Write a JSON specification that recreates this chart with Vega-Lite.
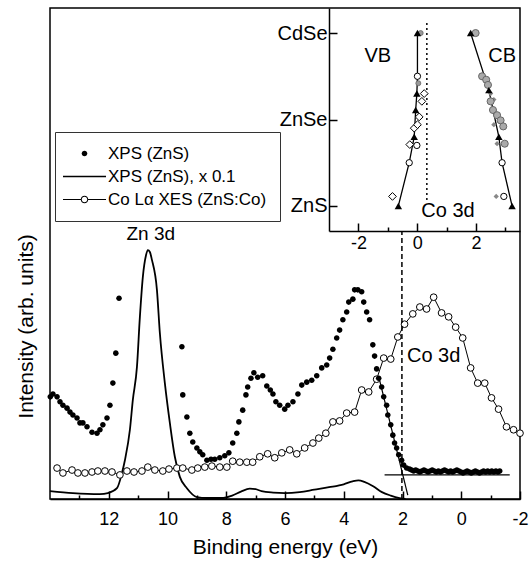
{
  "$schema": "https://vega.github.io/schema/vega-lite/v6.json",
  "width": 470,
  "height": 491,
  "autosize": {"type": "none"},
  "padding": {"left": 50, "top": 8, "right": 12, "bottom": 66},
  "background": "white",
  "config": {
    "font": "Liberation Sans",
    "view": {"stroke": "black", "strokeWidth": 1.5},
    "axis": {"domainColor": "black", "tickColor": "black", "labelColor": "black", "titleColor": "black", "grid": false, "titleFontWeight": "normal", "labelFont": "Liberation Sans", "titleFont": "Liberation Sans"}
  },
  "datasets": {
    "spectra": [
      {"s": "XPS (ZnS)", "e": 13.99, "i": 20.8}, {"s": "XPS (ZnS)", "e": 13.9, "i": 21.4}, {"s": "XPS (ZnS)", "e": 13.76, "i": 20.8}, {"s": "XPS (ZnS)", "e": 13.66, "i": 19.8}, {"s": "XPS (ZnS)", "e": 13.56, "i": 19.1}, {"s": "XPS (ZnS)", "e": 13.42, "i": 18.5}, {"s": "XPS (ZnS)", "e": 13.32, "i": 17.7}, {"s": "XPS (ZnS)", "e": 13.22, "i": 17.1}, {"s": "XPS (ZnS)", "e": 13.08, "i": 16.5}, {"s": "XPS (ZnS)", "e": 12.98, "i": 15.5}, {"s": "XPS (ZnS)", "e": 12.88, "i": 15.5}, {"s": "XPS (ZnS)", "e": 12.74, "i": 14.7}, {"s": "XPS (ZnS)", "e": 12.57, "i": 13.6}, {"s": "XPS (ZnS)", "e": 12.4, "i": 13.4}, {"s": "XPS (ZnS)", "e": 12.3, "i": 14.1}, {"s": "XPS (ZnS)", "e": 12.2, "i": 15.1}, {"s": "XPS (ZnS)", "e": 12.06, "i": 16.5}, {"s": "XPS (ZnS)", "e": 11.96, "i": 19.1}, {"s": "XPS (ZnS)", "e": 11.86, "i": 23.6}, {"s": "XPS (ZnS)", "e": 11.76, "i": 29.7}, {"s": "XPS (ZnS)", "e": 11.65, "i": 40.9},
      {"s": "XPS (ZnS)", "e": 9.51, "i": 31.0}, {"s": "XPS (ZnS)", "e": 9.48, "i": 21.2}, {"s": "XPS (ZnS)", "e": 9.34, "i": 16.7}, {"s": "XPS (ZnS)", "e": 9.24, "i": 13.4}, {"s": "XPS (ZnS)", "e": 9.14, "i": 11.6}, {"s": "XPS (ZnS)", "e": 9.0, "i": 10.4}, {"s": "XPS (ZnS)", "e": 8.9, "i": 9.6}, {"s": "XPS (ZnS)", "e": 8.8, "i": 9.0}, {"s": "XPS (ZnS)", "e": 8.66, "i": 7.9}, {"s": "XPS (ZnS)", "e": 8.52, "i": 8.1}, {"s": "XPS (ZnS)", "e": 8.39, "i": 8.1}, {"s": "XPS (ZnS)", "e": 8.22, "i": 8.4}, {"s": "XPS (ZnS)", "e": 8.05, "i": 8.8}, {"s": "XPS (ZnS)", "e": 7.91, "i": 9.4}, {"s": "XPS (ZnS)", "e": 7.78, "i": 11.4}, {"s": "XPS (ZnS)", "e": 7.64, "i": 13.4}, {"s": "XPS (ZnS)", "e": 7.57, "i": 15.7}, {"s": "XPS (ZnS)", "e": 7.44, "i": 18.1}, {"s": "XPS (ZnS)", "e": 7.33, "i": 21.2}, {"s": "XPS (ZnS)", "e": 7.27, "i": 22.8}, {"s": "XPS (ZnS)", "e": 7.16, "i": 24.6}, {"s": "XPS (ZnS)", "e": 7.06, "i": 25.7}, {"s": "XPS (ZnS)", "e": 6.93, "i": 24.8}, {"s": "XPS (ZnS)", "e": 6.76, "i": 25.1}, {"s": "XPS (ZnS)", "e": 6.62, "i": 23.0}, {"s": "XPS (ZnS)", "e": 6.5, "i": 22.2}, {"s": "XPS (ZnS)", "e": 6.41, "i": 21.4}, {"s": "XPS (ZnS)", "e": 6.31, "i": 19.8}, {"s": "XPS (ZnS)", "e": 6.18, "i": 19.1}, {"s": "XPS (ZnS)", "e": 6.01, "i": 18.3}, {"s": "XPS (ZnS)", "e": 5.9, "i": 19.1}, {"s": "XPS (ZnS)", "e": 5.73, "i": 19.8}, {"s": "XPS (ZnS)", "e": 5.56, "i": 21.4}, {"s": "XPS (ZnS)", "e": 5.43, "i": 23.2}, {"s": "XPS (ZnS)", "e": 5.26, "i": 23.8}, {"s": "XPS (ZnS)", "e": 5.09, "i": 24.2}, {"s": "XPS (ZnS)", "e": 4.92, "i": 25.1}, {"s": "XPS (ZnS)", "e": 4.75, "i": 26.7}, {"s": "XPS (ZnS)", "e": 4.58, "i": 27.3}, {"s": "XPS (ZnS)", "e": 4.48, "i": 28.7}, {"s": "XPS (ZnS)", "e": 4.37, "i": 30.5}, {"s": "XPS (ZnS)", "e": 4.24, "i": 32.8}, {"s": "XPS (ZnS)", "e": 4.14, "i": 34.4}, {"s": "XPS (ZnS)", "e": 4.03, "i": 36.5}, {"s": "XPS (ZnS)", "e": 3.9, "i": 38.1}, {"s": "XPS (ZnS)", "e": 3.83, "i": 40.1}, {"s": "XPS (ZnS)", "e": 3.69, "i": 40.7}, {"s": "XPS (ZnS)", "e": 3.63, "i": 42.6}, {"s": "XPS (ZnS)", "e": 3.52, "i": 42.6}, {"s": "XPS (ZnS)", "e": 3.39, "i": 42.2}, {"s": "XPS (ZnS)", "e": 3.32, "i": 40.1}, {"s": "XPS (ZnS)", "e": 3.22, "i": 38.1}, {"s": "XPS (ZnS)", "e": 3.12, "i": 36.5}, {"s": "XPS (ZnS)", "e": 3.01, "i": 31.4}, {"s": "XPS (ZnS)", "e": 2.95, "i": 29.1}, {"s": "XPS (ZnS)", "e": 2.88, "i": 26.5}, {"s": "XPS (ZnS)", "e": 2.81, "i": 24.6}, {"s": "XPS (ZnS)", "e": 2.71, "i": 22.8}, {"s": "XPS (ZnS)", "e": 2.64, "i": 20.8}, {"s": "XPS (ZnS)", "e": 2.54, "i": 19.1}, {"s": "XPS (ZnS)", "e": 2.5, "i": 17.1}, {"s": "XPS (ZnS)", "e": 2.4, "i": 15.1}, {"s": "XPS (ZnS)", "e": 2.33, "i": 13.0}, {"s": "XPS (ZnS)", "e": 2.27, "i": 11.4}, {"s": "XPS (ZnS)", "e": 2.2, "i": 10.4}, {"s": "XPS (ZnS)", "e": 2.13, "i": 9.0}, {"s": "XPS (ZnS)", "e": 2.03, "i": 7.9}, {"s": "XPS (ZnS)", "e": 1.96, "i": 6.9}, {"s": "XPS (ZnS)", "e": 1.86, "i": 6.3},
      {"s": "XPS (ZnS)", "e": 1.76, "i": 6.1}, {"s": "XPS (ZnS)", "e": 1.69, "i": 5.9}, {"s": "XPS (ZnS)", "e": 1.62, "i": 5.7}, {"s": "XPS (ZnS)", "e": 1.55, "i": 5.9}, {"s": "XPS (ZnS)", "e": 1.48, "i": 5.7}, {"s": "XPS (ZnS)", "e": 1.41, "i": 5.5}, {"s": "XPS (ZnS)", "e": 1.34, "i": 5.7}, {"s": "XPS (ZnS)", "e": 1.27, "i": 5.9}, {"s": "XPS (ZnS)", "e": 1.2, "i": 5.7}, {"s": "XPS (ZnS)", "e": 1.13, "i": 5.5}, {"s": "XPS (ZnS)", "e": 1.06, "i": 5.7}, {"s": "XPS (ZnS)", "e": 0.99, "i": 5.9}, {"s": "XPS (ZnS)", "e": 0.92, "i": 5.7}, {"s": "XPS (ZnS)", "e": 0.85, "i": 5.5}, {"s": "XPS (ZnS)", "e": 0.78, "i": 5.7}, {"s": "XPS (ZnS)", "e": 0.71, "i": 5.5}, {"s": "XPS (ZnS)", "e": 0.64, "i": 5.7}, {"s": "XPS (ZnS)", "e": 0.57, "i": 5.9}, {"s": "XPS (ZnS)", "e": 0.5, "i": 5.7}, {"s": "XPS (ZnS)", "e": 0.43, "i": 5.5}, {"s": "XPS (ZnS)", "e": 0.36, "i": 5.7}, {"s": "XPS (ZnS)", "e": 0.29, "i": 5.5}, {"s": "XPS (ZnS)", "e": 0.22, "i": 5.7}, {"s": "XPS (ZnS)", "e": 0.15, "i": 5.9}, {"s": "XPS (ZnS)", "e": 0.08, "i": 5.7}, {"s": "XPS (ZnS)", "e": 0.01, "i": 5.5}, {"s": "XPS (ZnS)", "e": -0.06, "i": 5.3}, {"s": "XPS (ZnS)", "e": -0.13, "i": 5.5}, {"s": "XPS (ZnS)", "e": -0.2, "i": 5.7}, {"s": "XPS (ZnS)", "e": -0.27, "i": 5.5}, {"s": "XPS (ZnS)", "e": -0.34, "i": 5.3}, {"s": "XPS (ZnS)", "e": -0.41, "i": 5.5}, {"s": "XPS (ZnS)", "e": -0.48, "i": 5.7}, {"s": "XPS (ZnS)", "e": -0.55, "i": 5.5}, {"s": "XPS (ZnS)", "e": -0.62, "i": 5.3}, {"s": "XPS (ZnS)", "e": -0.69, "i": 5.5}, {"s": "XPS (ZnS)", "e": -0.76, "i": 5.7}, {"s": "XPS (ZnS)", "e": -0.83, "i": 5.5}, {"s": "XPS (ZnS)", "e": -0.9, "i": 5.7}, {"s": "XPS (ZnS)", "e": -0.97, "i": 5.5}, {"s": "XPS (ZnS)", "e": -1.04, "i": 5.7}, {"s": "XPS (ZnS)", "e": -1.11, "i": 5.5}, {"s": "XPS (ZnS)", "e": -1.18, "i": 5.7}, {"s": "XPS (ZnS)", "e": -1.25, "i": 5.5}, {"s": "XPS (ZnS)", "e": -1.31, "i": 5.7},
      {"s": "XPS (ZnS), x 0.1", "e": 14.0, "i": 1.6}, {"s": "XPS (ZnS), x 0.1", "e": 13.22, "i": 1.2}, {"s": "XPS (ZnS), x 0.1", "e": 12.3, "i": 1.0}, {"s": "XPS (ZnS), x 0.1", "e": 12.03, "i": 1.2}, {"s": "XPS (ZnS), x 0.1", "e": 11.72, "i": 2.2}, {"s": "XPS (ZnS), x 0.1", "e": 11.55, "i": 5.3}, {"s": "XPS (ZnS), x 0.1", "e": 11.45, "i": 7.9}, {"s": "XPS (ZnS), x 0.1", "e": 11.28, "i": 14.1}, {"s": "XPS (ZnS), x 0.1", "e": 11.18, "i": 20.2}, {"s": "XPS (ZnS), x 0.1", "e": 11.04, "i": 26.9}, {"s": "XPS (ZnS), x 0.1", "e": 10.94, "i": 37.1}, {"s": "XPS (ZnS), x 0.1", "e": 10.84, "i": 45.2}, {"s": "XPS (ZnS), x 0.1", "e": 10.73, "i": 49.7}, {"s": "XPS (ZnS), x 0.1", "e": 10.67, "i": 50.7}, {"s": "XPS (ZnS), x 0.1", "e": 10.6, "i": 50.3}, {"s": "XPS (ZnS), x 0.1", "e": 10.53, "i": 48.7}, {"s": "XPS (ZnS), x 0.1", "e": 10.36, "i": 42.6}, {"s": "XPS (ZnS), x 0.1", "e": 10.26, "i": 33.8}, {"s": "XPS (ZnS), x 0.1", "e": 10.09, "i": 23.6}, {"s": "XPS (ZnS), x 0.1", "e": 9.92, "i": 15.5}, {"s": "XPS (ZnS), x 0.1", "e": 9.75, "i": 8.6}, {"s": "XPS (ZnS), x 0.1", "e": 9.58, "i": 4.5}, {"s": "XPS (ZnS), x 0.1", "e": 9.34, "i": 2.2}, {"s": "XPS (ZnS), x 0.1", "e": 9.0, "i": 0.4}, {"s": "XPS (ZnS), x 0.1", "e": 8.66, "i": 0.2}, {"s": "XPS (ZnS), x 0.1", "e": 8.1, "i": 0.2}, {"s": "XPS (ZnS), x 0.1", "e": 7.8, "i": 0.7}, {"s": "XPS (ZnS), x 0.1", "e": 7.5, "i": 1.5}, {"s": "XPS (ZnS), x 0.1", "e": 7.2, "i": 2.1}, {"s": "XPS (ZnS), x 0.1", "e": 7.0, "i": 2.0}, {"s": "XPS (ZnS), x 0.1", "e": 6.8, "i": 1.6}, {"s": "XPS (ZnS), x 0.1", "e": 6.4, "i": 1.3}, {"s": "XPS (ZnS), x 0.1", "e": 6.0, "i": 1.2}, {"s": "XPS (ZnS), x 0.1", "e": 5.5, "i": 1.4}, {"s": "XPS (ZnS), x 0.1", "e": 5.0, "i": 1.9}, {"s": "XPS (ZnS), x 0.1", "e": 4.5, "i": 2.4}, {"s": "XPS (ZnS), x 0.1", "e": 4.0, "i": 3.0}, {"s": "XPS (ZnS), x 0.1", "e": 3.7, "i": 3.6}, {"s": "XPS (ZnS), x 0.1", "e": 3.5, "i": 3.8}, {"s": "XPS (ZnS), x 0.1", "e": 3.3, "i": 3.5}, {"s": "XPS (ZnS), x 0.1", "e": 3.0, "i": 2.6}, {"s": "XPS (ZnS), x 0.1", "e": 2.7, "i": 1.4}, {"s": "XPS (ZnS), x 0.1", "e": 2.4, "i": 0.7}, {"s": "XPS (ZnS), x 0.1", "e": 2.1, "i": 0.2}, {"s": "XPS (ZnS), x 0.1", "e": 1.9, "i": 0.0},
      {"s": "Co Lα XES (ZnS:Co)", "e": 13.76, "i": 6.3}, {"s": "Co Lα XES (ZnS:Co)", "e": 13.56, "i": 5.3}, {"s": "Co Lα XES (ZnS:Co)", "e": 13.25, "i": 5.9}, {"s": "Co Lα XES (ZnS:Co)", "e": 13.05, "i": 5.3}, {"s": "Co Lα XES (ZnS:Co)", "e": 12.81, "i": 5.3}, {"s": "Co Lα XES (ZnS:Co)", "e": 12.57, "i": 5.5}, {"s": "Co Lα XES (ZnS:Co)", "e": 12.37, "i": 5.7}, {"s": "Co Lα XES (ZnS:Co)", "e": 12.13, "i": 5.7}, {"s": "Co Lα XES (ZnS:Co)", "e": 11.89, "i": 5.5}, {"s": "Co Lα XES (ZnS:Co)", "e": 11.62, "i": 4.9}, {"s": "Co Lα XES (ZnS:Co)", "e": 11.38, "i": 5.7}, {"s": "Co Lα XES (ZnS:Co)", "e": 11.14, "i": 5.5}, {"s": "Co Lα XES (ZnS:Co)", "e": 10.87, "i": 5.7}, {"s": "Co Lα XES (ZnS:Co)", "e": 10.67, "i": 6.5}, {"s": "Co Lα XES (ZnS:Co)", "e": 10.43, "i": 5.9}, {"s": "Co Lα XES (ZnS:Co)", "e": 10.16, "i": 5.7}, {"s": "Co Lα XES (ZnS:Co)", "e": 9.95, "i": 6.1}, {"s": "Co Lα XES (ZnS:Co)", "e": 9.68, "i": 6.3}, {"s": "Co Lα XES (ZnS:Co)", "e": 9.48, "i": 6.3}, {"s": "Co Lα XES (ZnS:Co)", "e": 9.17, "i": 5.9}, {"s": "Co Lα XES (ZnS:Co)", "e": 8.97, "i": 6.3}, {"s": "Co Lα XES (ZnS:Co)", "e": 8.73, "i": 6.5}, {"s": "Co Lα XES (ZnS:Co)", "e": 8.49, "i": 6.7}, {"s": "Co Lα XES (ZnS:Co)", "e": 8.22, "i": 6.5}, {"s": "Co Lα XES (ZnS:Co)", "e": 7.98, "i": 6.5}, {"s": "Co Lα XES (ZnS:Co)", "e": 7.78, "i": 7.7}, {"s": "Co Lα XES (ZnS:Co)", "e": 7.54, "i": 7.5}, {"s": "Co Lα XES (ZnS:Co)", "e": 7.3, "i": 7.5}, {"s": "Co Lα XES (ZnS:Co)", "e": 7.1, "i": 7.5}, {"s": "Co Lα XES (ZnS:Co)", "e": 6.86, "i": 8.6}, {"s": "Co Lα XES (ZnS:Co)", "e": 6.59, "i": 9.2}, {"s": "Co Lα XES (ZnS:Co)", "e": 6.35, "i": 8.4}, {"s": "Co Lα XES (ZnS:Co)", "e": 6.11, "i": 9.4}, {"s": "Co Lα XES (ZnS:Co)", "e": 5.84, "i": 10.0}, {"s": "Co Lα XES (ZnS:Co)", "e": 5.6, "i": 9.2}, {"s": "Co Lα XES (ZnS:Co)", "e": 5.33, "i": 10.4}, {"s": "Co Lα XES (ZnS:Co)", "e": 5.05, "i": 11.4}, {"s": "Co Lα XES (ZnS:Co)", "e": 4.85, "i": 12.4}, {"s": "Co Lα XES (ZnS:Co)", "e": 4.61, "i": 13.4}, {"s": "Co Lα XES (ZnS:Co)", "e": 4.37, "i": 15.7}, {"s": "Co Lα XES (ZnS:Co)", "e": 4.14, "i": 15.9}, {"s": "Co Lα XES (ZnS:Co)", "e": 3.9, "i": 17.5}, {"s": "Co Lα XES (ZnS:Co)", "e": 3.63, "i": 17.7}, {"s": "Co Lα XES (ZnS:Co)", "e": 3.39, "i": 22.2}, {"s": "Co Lα XES (ZnS:Co)", "e": 3.15, "i": 21.8}, {"s": "Co Lα XES (ZnS:Co)", "e": 2.88, "i": 24.4}, {"s": "Co Lα XES (ZnS:Co)", "e": 2.64, "i": 28.7}, {"s": "Co Lα XES (ZnS:Co)", "e": 2.4, "i": 28.5}, {"s": "Co Lα XES (ZnS:Co)", "e": 2.16, "i": 33.0}, {"s": "Co Lα XES (ZnS:Co)", "e": 1.93, "i": 35.6}, {"s": "Co Lα XES (ZnS:Co)", "e": 1.65, "i": 37.7}, {"s": "Co Lα XES (ZnS:Co)", "e": 1.41, "i": 39.1}, {"s": "Co Lα XES (ZnS:Co)", "e": 1.18, "i": 38.7}, {"s": "Co Lα XES (ZnS:Co)", "e": 0.94, "i": 41.1}, {"s": "Co Lα XES (ZnS:Co)", "e": 0.67, "i": 37.9}, {"s": "Co Lα XES (ZnS:Co)", "e": 0.43, "i": 37.1}, {"s": "Co Lα XES (ZnS:Co)", "e": 0.19, "i": 35.0}, {"s": "Co Lα XES (ZnS:Co)", "e": -0.05, "i": 32.8}, {"s": "Co Lα XES (ZnS:Co)", "e": -0.32, "i": 26.7}, {"s": "Co Lα XES (ZnS:Co)", "e": -0.56, "i": 23.6}, {"s": "Co Lα XES (ZnS:Co)", "e": -0.8, "i": 23.6}, {"s": "Co Lα XES (ZnS:Co)", "e": -1.03, "i": 20.6}, {"s": "Co Lα XES (ZnS:Co)", "e": -1.27, "i": 18.3}, {"s": "Co Lα XES (ZnS:Co)", "e": -1.54, "i": 14.7}, {"s": "Co Lα XES (ZnS:Co)", "e": -1.78, "i": 14.1}, {"s": "Co Lα XES (ZnS:Co)", "e": -2.0, "i": 13.4}
    ],
    "fits": [
      {"f": "baseline", "e": 2.61, "i": 4.9}, {"f": "baseline", "e": -1.65, "i": 4.9},
      {"f": "edge", "e": 2.78, "i": 24.2}, {"f": "edge", "e": 1.82, "i": 0.8}
    ],
    "dash": [{"e": 2.02, "i": 0, "i2": 54.4}],
    "mainlabels": [
      {"t": "Zn 3d", "e": 10.57, "i": 52.7, "g": "zn"},
      {"t": "Co 3d", "e": 0.94, "i": 27.9, "g": "co"}
    ],
    "co3d": [{"x": 0.33, "y": 0.07, "y2": 2.13}],
    "bands": [
      {"b": "VB", "x": -0.64, "y": 0}, {"b": "VB", "x": -0.27, "y": 0.5}, {"b": "VB", "x": -0.1, "y": 0.8}, {"b": "VB", "x": -0.05, "y": 1.11}, {"b": "VB", "x": -0.01, "y": 1.3}, {"b": "VB", "x": 0.01, "y": 1.5}, {"b": "VB", "x": 0.01, "y": 2.0},
      {"b": "CB", "x": 3.23, "y": 0}, {"b": "CB", "x": 2.89, "y": 0.5}, {"b": "CB", "x": 2.78, "y": 0.8}, {"b": "CB", "x": 2.44, "y": 1.34}, {"b": "CB", "x": 1.82, "y": 2.0}
    ],
    "inset": [
      {"k": "tri", "x": -0.64, "y": 0}, {"k": "tri", "x": -0.1, "y": 0.8}, {"k": "tri", "x": -0.05, "y": 1.11}, {"k": "tri", "x": -0.01, "y": 1.3}, {"k": "tri", "x": 0.01, "y": 2.0}, {"k": "tri", "x": 1.82, "y": 2.0}, {"k": "tri", "x": 2.44, "y": 1.34}, {"k": "tri", "x": 2.78, "y": 0.8}, {"k": "tri", "x": 3.23, "y": 0},
      {"k": "ocirc", "x": -0.27, "y": 0.5}, {"k": "ocirc", "x": 0.01, "y": 1.5}, {"k": "ocirc", "x": -0.01, "y": 0.7}, {"k": "ocirc", "x": 2.89, "y": 0.5}, {"k": "ocirc", "x": 2.95, "y": 0.11},
      {"k": "odia", "x": -0.84, "y": 0.11}, {"k": "odia", "x": -0.25, "y": 0.71}, {"k": "odia", "x": -0.1, "y": 0.9}, {"k": "odia", "x": 0.01, "y": 0.94}, {"k": "odia", "x": 0.07, "y": 1.03}, {"k": "odia", "x": 0.16, "y": 1.21}, {"k": "odia", "x": 0.24, "y": 1.3},
      {"k": "gcirc", "x": 1.99, "y": 2.0}, {"k": "gcirc", "x": 2.21, "y": 1.5}, {"k": "gcirc", "x": 2.35, "y": 1.46}, {"k": "gcirc", "x": 2.41, "y": 1.4}, {"k": "gcirc", "x": 2.5, "y": 1.21}, {"k": "gcirc", "x": 2.58, "y": 1.11}, {"k": "gcirc", "x": 2.72, "y": 1.05}, {"k": "gcirc", "x": 2.84, "y": 0.99}, {"k": "gcirc", "x": 2.93, "y": 0.92}, {"k": "gcirc", "x": 2.98, "y": 0.72},
      {"k": "gsmall", "x": 0.12, "y": 2.0}, {"k": "gsmall", "x": 0.04, "y": 1.42},
      {"k": "gdia", "x": 2.5, "y": 1.3}, {"k": "gdia", "x": 2.61, "y": 1.23}, {"k": "gdia", "x": 2.61, "y": 0.94}, {"k": "gdia", "x": 2.72, "y": 0.72}, {"k": "gdia", "x": 2.69, "y": 0.11}
    ],
    "insetlabels": [
      {"t": "VB", "x": -1.34, "y": 1.667}, {"t": "CB", "x": 2.89, "y": 1.667}, {"t": "Co 3d", "x": 1.05, "y": -0.13}
    ]
  },
  "layer": [
    {
      "encoding": {
        "x": {"field": "e", "type": "quantitative", "scale": {"domain": [-2, 14], "reverse": true, "nice": false, "zero": false},
          "axis": {"orient": "top", "offset": -491, "values": [13, 12, 11, 10, 9, 8, 7, 6, 5, 4, 3, 2, 1, 0, -1, -2], "labelExpr": "datum.value % 2 === 0 ? '' + datum.value : ''", "tickSize": {"condition": {"test": "datum.value % 2 === 0", "value": 8}, "value": 4}, "tickWidth": 1.5, "domainWidth": 1.5, "labelFontSize": 18, "labelPadding": -19, "labelBaseline": "top", "labelFlush": false, "labelOverlap": false, "title": "Binding energy (eV)", "titleFontSize": 21, "titleX": 235, "titleY": 54, "titleBaseline": "alphabetic", "titleAlign": "center"}},
        "y": {"field": "i", "type": "quantitative", "scale": {"domain": [0, 100], "nice": false, "zero": false},
          "axis": {"orient": "left", "domain": false, "ticks": false, "labels": false, "title": "Intensity (arb. units)", "titleFontSize": 21, "titleX": -18, "titleY": 318, "titleAngle": -90, "titleBaseline": "alphabetic", "titleAlign": "center"}}
      },
      "layer": [
        {"data": {"name": "spectra"}, "transform": [{"filter": "datum.s === 'XPS (ZnS), x 0.1'"}], "mark": {"type": "line", "color": "black", "strokeWidth": 1.8, "interpolate": "monotone"}},
        {"data": {"name": "spectra"}, "transform": [{"filter": "datum.s === 'Co Lα XES (ZnS:Co)'"}], "mark": {"type": "line", "color": "black", "strokeWidth": 1}},
        {"data": {"name": "spectra"}, "transform": [{"filter": "datum.s === 'Co Lα XES (ZnS:Co)'"}], "mark": {"type": "point", "shape": "circle", "filled": true, "fill": "white", "stroke": "black", "strokeWidth": 1, "size": 45, "opacity": 1}},
        {"data": {"name": "fits"}, "mark": {"type": "line", "color": "black", "strokeWidth": 1.2}, "encoding": {"detail": {"field": "f"}}},
        {"data": {"name": "dash"}, "mark": {"type": "rule", "color": "black", "strokeWidth": 1.5, "strokeDash": [5, 3]}, "encoding": {"y2": {"field": "i2"}}},
        {"data": {"name": "spectra"}, "transform": [{"filter": "datum.s === 'XPS (ZnS)'"}], "mark": {"type": "point", "filled": true, "color": "black", "strokeWidth": 0, "size": 100, "opacity": 1},
          "encoding": {"shape": {"field": "s", "type": "nominal",
            "scale": {"domain": ["XPS (ZnS)", "XPS (ZnS), x 0.1", "Co Lα XES (ZnS:Co)"],
              "range": ["M0.56,0A0.56,0.56,0,1,1,-0.56,0A0.56,0.56,0,1,1,0.56,0Z", "M-4.3,-0.17H4.3V0.17H-4.3Z", "M-4.3,-0.1H-0.72V0.1H-4.3ZM0.72,-0.1H4.3V0.1H0.72ZM0.75,0A0.75,0.75,0,1,1,-0.75,0A0.75,0.75,0,1,1,0.75,0ZM0.55,0A0.55,0.55,0,1,0,-0.55,0A0.55,0.55,0,1,0,0.55,0Z"]},
            "legend": {"orient": "none", "legendX": 5, "legendY": 124, "title": null, "strokeColor": "#333", "padding": 13, "symbolOffset": 8, "labelOffset": 15, "rowPadding": 5, "labelFontSize": 17, "labelColor": "black", "labelLimit": 400, "symbolSize": 100, "symbolFillColor": "black", "symbolStrokeWidth": 0, "symbolOpacity": 1}}}},
        {"data": {"name": "mainlabels"}, "transform": [{"filter": "datum.g === 'zn'"}], "mark": {"type": "text", "fontSize": 19, "baseline": "alphabetic", "align": "center", "color": "black"}, "encoding": {"text": {"field": "t"}}},
        {"data": {"name": "mainlabels"}, "transform": [{"filter": "datum.g === 'co'"}], "mark": {"type": "text", "fontSize": 20, "baseline": "alphabetic", "align": "center", "color": "black"}, "encoding": {"text": {"field": "t"}}}
      ]
    },
    {
      "encoding": {
        "x": {"field": "x", "type": "quantitative", "scale": {"domain": [-3, 3.5], "range": [279, 470], "nice": false, "zero": false},
          "axis": {"orient": "top", "offset": -223, "values": [-2, -1, 0, 1, 2, 3], "labelExpr": "datum.value % 2 === 0 ? '' + datum.value : ''", "tickSize": {"condition": {"test": "datum.value % 2 === 0", "value": 8}, "value": 4}, "tickWidth": 1.5, "domainWidth": 1.5, "labelFontSize": 18, "labelPadding": -11, "labelBaseline": "top", "labelFlush": false, "labelOverlap": false, "title": null}},
        "y": {"field": "y", "type": "quantitative", "scale": {"domain": [-0.29, 2.29], "range": [223, 0], "nice": false, "zero": false},
          "axis": {"orient": "right", "offset": -191, "values": [0, 1, 2], "labelExpr": "datum.value === 0 ? 'ZnS' : datum.value === 1 ? 'ZnSe' : 'CdSe'", "tickSize": 8, "tickWidth": 1.5, "domainWidth": 1.5, "labelFontSize": 20, "labelPadding": -10, "labelAlign": "right", "labelOverlap": false, "title": null}}
      },
      "layer": [
        {"data": {"name": "co3d"}, "mark": {"type": "rule", "color": "black", "strokeWidth": 1.5, "strokeDash": [2, 3]}, "encoding": {"y2": {"field": "y2"}}},
        {"data": {"name": "bands"}, "mark": {"type": "line", "color": "black", "strokeWidth": 1.3}, "encoding": {"detail": {"field": "b"}, "order": {"field": "y"}}},
        {"data": {"name": "inset"}, "transform": [{"filter": "datum.k === 'gdia'"}], "mark": {"type": "point", "shape": "diamond", "filled": true, "fill": "#888", "strokeWidth": 0, "size": 28, "opacity": 1}},
        {"data": {"name": "inset"}, "transform": [{"filter": "datum.k === 'gcirc'"}], "mark": {"type": "point", "shape": "circle", "filled": true, "fill": "#aaa", "stroke": "#666", "strokeWidth": 1, "size": 50, "opacity": 1}},
        {"data": {"name": "inset"}, "transform": [{"filter": "datum.k === 'gsmall'"}], "mark": {"type": "point", "shape": "circle", "filled": true, "fill": "#999", "stroke": "#666", "strokeWidth": 0.8, "size": 25, "opacity": 1}},
        {"data": {"name": "inset"}, "transform": [{"filter": "datum.k === 'odia'"}], "mark": {"type": "point", "shape": "diamond", "filled": true, "fill": "white", "stroke": "black", "strokeWidth": 1, "size": 60, "opacity": 1}},
        {"data": {"name": "inset"}, "transform": [{"filter": "datum.k === 'ocirc'"}], "mark": {"type": "point", "shape": "circle", "filled": true, "fill": "white", "stroke": "black", "strokeWidth": 1, "size": 40, "opacity": 1}},
        {"data": {"name": "inset"}, "transform": [{"filter": "datum.k === 'tri'"}], "mark": {"type": "point", "shape": "triangle-up", "filled": true, "fill": "black", "strokeWidth": 0, "size": 55, "opacity": 1}},
        {"data": {"name": "insetlabels"}, "mark": {"type": "text", "fontSize": 20, "baseline": "alphabetic", "align": "center", "color": "black"}, "encoding": {"text": {"field": "t"}}}
      ]
    }
  ],
  "resolve": {"scale": {"x": "independent", "y": "independent"}}
}
